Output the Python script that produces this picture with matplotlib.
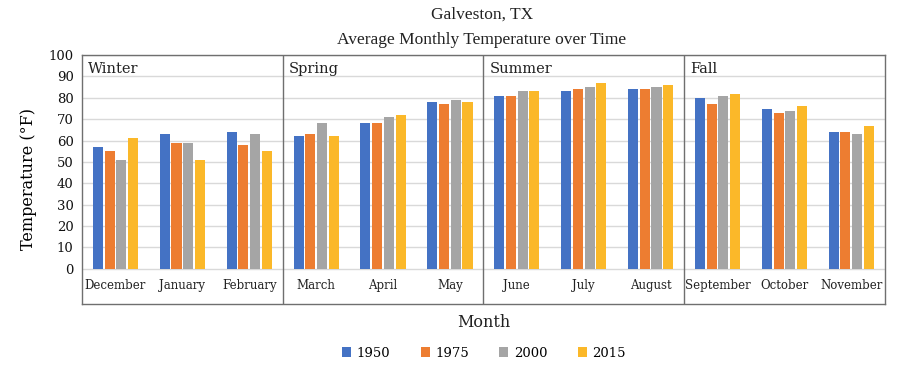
import numpy as np
import matplotlib
matplotlib.use("Agg")
import matplotlib.pyplot as plt
from matplotlib.patches import Patch

# ── Data ──────────────────────────────────────────────────────────────────
months = ["December", "January", "February", "March", "April", "May",
          "June", "July", "August", "September", "October", "November"]
seasons = ["Winter", "Spring", "Summer", "Fall"]
years = ["1950", "1975", "2000", "2015"]

t1950 = [57, 63, 64, 62, 68, 78, 81, 83, 84, 80, 75, 64]
t1975 = [55, 59, 58, 63, 68, 77, 81, 84, 84, 77, 73, 64]
t2000 = [51, 59, 63, 68, 71, 79, 83, 85, 85, 81, 74, 63]
t2015 = [61, 51, 55, 62, 72, 78, 83, 87, 86, 82, 76, 67]

colours = ["#4472C4", "#ED7D31", "#A5A5A5", "#FBB829"]
series = [t1950, t1975, t2000, t2015]

serif = "DejaVu Serif"
plt.rcParams["font.family"] = serif

fig = plt.figure(figsize=(9.01, 3.72), dpi=100)
ax = fig.add_axes([0.091, 0.183, 0.891, 0.669])

x = np.arange(len(months))
bar_w = 0.15
step = 0.175
for i, (vals, c) in enumerate(zip(series, colours)):
    ax.bar(x + (i - 1.5) * step, vals, width=bar_w, color=c, zorder=3)

ax.set_xlim(-0.5, len(months) - 0.5)
ax.set_ylim(-16.4, 100)
ax.set_yticks(range(0, 101, 10))
ax.tick_params(axis="y", length=0, labelsize=9.5, pad=6, labelcolor="#111111")
ax.set_xticks([])

# horizontal grid (0..100 only)
for v in range(0, 101, 10):
    ax.axhline(v, color="#D9D9D9", lw=1.0, zorder=1)

# season dividers
for k in range(1, len(seasons)):
    ax.axvline(3 * k - 0.5, color="#6F6F6F", lw=1.0, zorder=4)

for s in ax.spines.values():
    s.set_color("#6F6F6F")
    s.set_linewidth(1.0)

# season labels
for k, name in enumerate(seasons):
    ax.text(3 * k - 0.5 + 0.09, 93.5, name, fontsize=10.5, va="center",
            ha="left", color="#222222", zorder=5)

# month labels inside frame
for xi, m in zip(x, months):
    ax.text(xi, -8, m, fontsize=8.5, ha="center", va="center", color="#222222")

ax.set_ylabel("Temperature (°F)", fontsize=11.5, labelpad=8)

fig.text(0.535, 0.960, "Galveston, TX", ha="center", va="center",
         fontsize=12.5, family="Liberation Serif", color="#222222")
fig.text(0.535, 0.893, "Average Monthly Temperature over Time", ha="center",
         va="center", fontsize=12.5, family="Liberation Serif", color="#222222")
fig.text(0.537, 0.133, "Month", ha="center", va="center", fontsize=11.5,
         color="#222222")

handles = [Patch(facecolor=c, edgecolor="none") for c in colours]
fig.legend(handles, years, loc="center", bbox_to_anchor=(0.537, 0.051),
           ncol=4, frameon=False, fontsize=9.5, handlelength=0.7,
           handleheight=0.7, handletextpad=0.4, columnspacing=2.3)

fig.savefig("out.png", dpi=100)
